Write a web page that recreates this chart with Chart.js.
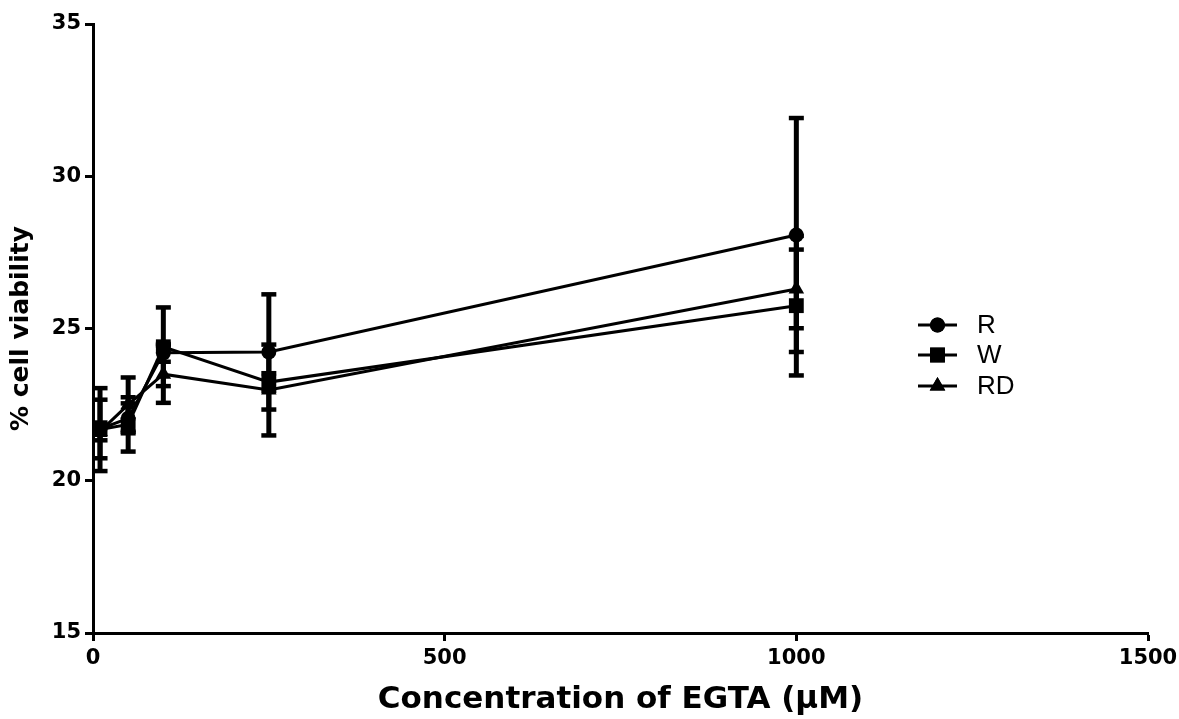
<!DOCTYPE html>
<html>
<head>
<meta charset="utf-8">
<script src="https://cdn.jsdelivr.net/npm/chart.js@4.4.1/dist/chart.umd.min.js"></script>
<style>
  html, body { margin: 0; padding: 0; background: #fff; }
  #wrap { width: 1179px; height: 719px; }
</style>
</head>
<body>
<div id="wrap"><canvas id="chart" width="1179" height="719"></canvas></div>
<script>
// EGTA concentration (uM)
const concentrations = [10, 50, 100, 250, 1000];

// mean % cell viability and error (+/-)
const rValues  = [21.7, 22.05, 24.2, 24.23, 28.07];
const rErr     = [0.97, 0.5, 0.3, 1.9, 3.85];
const wValues  = [21.68, 21.85, 24.4, 23.24, 25.75];
const wErr     = [1.37, 0.9, 1.3, 0.3, 2.3];
const rdValues = [21.62, 22.5, 23.5, 22.98, 26.3];
const rdErr    = [0.3, 0.9, 0.95, 1.5, 1.3];

const seriesNames = ['R', 'W', 'RD'];
const xTicks = [0, 500, 1000, 1500];
const yTicks = [15, 20, 25, 30, 35];

const FONT = '"DejaVu Sans", Arial, sans-serif';
const LEGEND_FONT = 'Arial, "Liberation Sans", sans-serif';

const toPoints = (vals, errs) => concentrations.map((c, i) => ({ x: c, y: vals[i], err: errs[i] }));

function makeSet(label, vals, errs, style, radius) {
    return {
        label,
        data: toPoints(vals, errs),
        borderColor: '#000',
        backgroundColor: '#000',
        borderWidth: 3,
        pointStyle: style,
        pointRadius: radius,
        pointHoverRadius: radius,
        pointBorderWidth: 0,
        showLine: true,
        tension: 0
    };
}

// vertical error bars with caps
const errorBars = {
    id: 'errorBars',
    afterDatasetsDraw(chart) {
        const { ctx, scales: { x, y } } = chart;
        ctx.save();
        ctx.fillStyle = '#000';
        chart.data.datasets.forEach(ds => {
            ds.data.forEach(p => {
                const px = x.getPixelForValue(p.x);
                const top = y.getPixelForValue(p.y + p.err);
                const bot = y.getPixelForValue(p.y - p.err);
                ctx.fillRect(px - 2.5, top, 5, bot - top);
                ctx.fillRect(px - 7.5, top - 2, 15, 4.5);
                ctx.fillRect(px - 7.5, bot - 2.5, 15, 4.5);
            });
        });
        ctx.restore();
    }
};

// legend inside the plot, to the right of the data
const innerLegend = {
    id: 'innerLegend',
    afterDraw(chart) {
        const { ctx } = chart;
        const x0 = 918, x1 = 957, rowY = [325, 355, 386];
        ctx.save();
        chart.data.datasets.forEach((ds, i) => {
            const yy = rowY[i];
            ctx.strokeStyle = '#000';
            ctx.lineWidth = 3;
            ctx.beginPath();
            ctx.moveTo(x0, yy);
            ctx.lineTo(x1, yy);
            ctx.stroke();
            Chart.helpers.drawPoint(ctx, { pointStyle: ds.pointStyle, radius: ds.pointRadius, borderWidth: 0 }, (x0 + x1) / 2, yy);
            ctx.fillStyle = '#000';
            ctx.fill();
            ctx.font = '26px ' + LEGEND_FONT;
            ctx.textBaseline = 'middle';
            ctx.textAlign = 'left';
            ctx.fillText(ds.label, 977, yy + 1);
        });
        ctx.restore();
    }
};

const ctx = document.getElementById('chart').getContext('2d');
new Chart(ctx, {
    type: 'scatter',
    data: {
        datasets: [
            makeSet(seriesNames[0], rValues, rErr, 'circle', 7.5),
            makeSet(seriesNames[1], wValues, wErr, 'rect', 10.5),
            makeSet(seriesNames[2], rdValues, rdErr, 'triangle', 9)
        ]
    },
    options: {
        responsive: false,
        animation: false,
        layout: { padding: { top: 24, right: 31, bottom: 0, left: 0 } },
        plugins: {
            legend: { display: false },
            tooltip: { enabled: false }
        },
        scales: {
            x: {
                type: 'linear',
                min: 0,
                max: 1500,
                afterBuildTicks: axis => { axis.ticks = xTicks.map(v => ({ value: v })); },
                afterFit: axis => { axis.height = 86; axis.paddingLeft = 0; axis.paddingRight = 0; },
                grid: { drawOnChartArea: false, drawTicks: true, tickLength: 8, tickWidth: 3, tickColor: '#000' },
                border: { color: '#000', width: 3 },
                ticks: { color: '#000', padding: 5, callback: v => String(v), font: { family: FONT, size: 21, weight: 'bold' } },
                title: {
                    display: true,
                    text: 'Concentration of EGTA (\u03bcM)',
                    color: '#000',
                    padding: { top: 0, bottom: 0 },
                    font: { family: FONT, size: 31, weight: 'bold' }
                }
            },
            y: {
                type: 'linear',
                min: 15,
                max: 35,
                afterBuildTicks: axis => { axis.ticks = yTicks.map(v => ({ value: v })); },
                afterFit: axis => { axis.width = 93; },
                grid: { drawOnChartArea: false, drawTicks: true, tickLength: 8, tickWidth: 3, tickColor: '#000' },
                border: { color: '#000', width: 3 },
                ticks: { color: '#000', padding: 4, font: { family: FONT, size: 21, weight: 'bold' } },
                title: {
                    display: true,
                    text: '% cell viability',
                    color: '#000',
                    padding: { top: 6, bottom: 4 },
                    font: { family: FONT, size: 25, weight: 'bold' }
                }
            }
        }
    },
    plugins: [errorBars, innerLegend]
});
</script>
</body>
</html>
